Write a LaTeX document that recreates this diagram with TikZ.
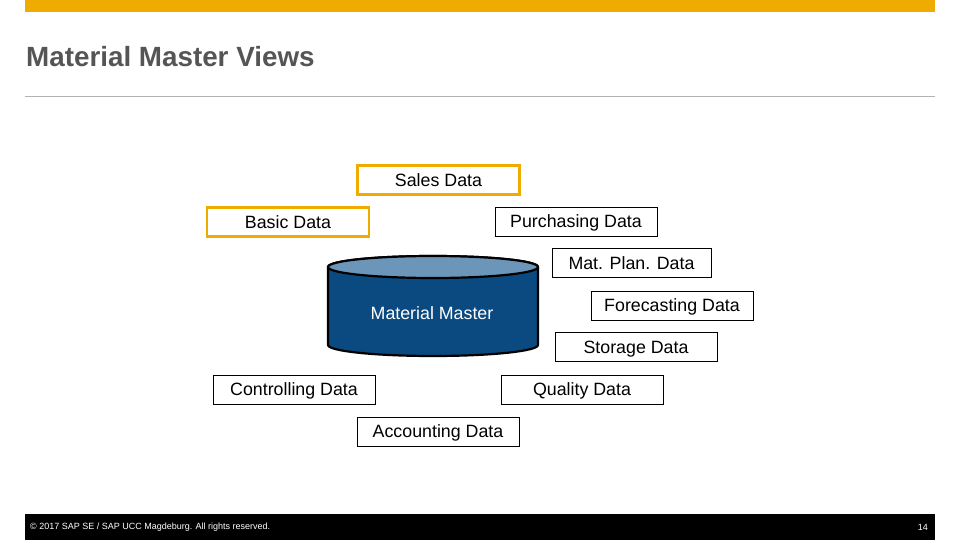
\documentclass[tikz,border=0pt]{standalone}
\usepackage{fontspec}
\setmainfont{Liberation Sans}
\definecolor{sapyel}{HTML}{F0AB00}
\definecolor{cylbody}{HTML}{0B4A80}
\definecolor{cyltop}{HTML}{6B96BA}
\definecolor{titlegray}{HTML}{555555}
\begin{document}
\begin{tikzpicture}[x=1pt,y=-1pt,
  vbox/.style={draw=black,line width=0.8pt,fill=white,minimum width=162pt,minimum height=29pt,font=\fontsize{17.8}{20}\selectfont,inner sep=0pt,text height=12.5pt,text depth=0pt},
  ybox/.style={vbox,draw=sapyel,line width=2.5pt}]
\useasboundingbox (0,0) rectangle (960,540);
\fill[sapyel] (25,0) rectangle (935,12);
\node[anchor=west,font=\fontsize{27.8}{32}\selectfont\bfseries,text=titlegray,inner sep=0pt] (title) at (26,57) {Material Master Views};
\draw[gray!60,line width=0.8pt] (25,96) -- (935,96);
\node[ybox] (sales) at (438.5,180) {Sales Data};
\node[ybox] (basic) at (288,222) {Basic Data};
\node[vbox] (purch) at (576,221.5) {Purchasing Data};
\node[vbox,minimum width=159pt] (matplan) at (631.5,263) {Mat. Plan. Data};
\node[vbox] (fore) at (672,305.5) {Forecasting Data};
\node[vbox] (stor) at (636,347) {Storage Data};
\node[vbox] (ctrl) at (294,389.5) {Controlling Data};
\node[vbox] (qual) at (582,389.5) {Quality Data};
\node[vbox] (acct) at (438,431.5) {Accounting Data};
% cylinder
\draw[line width=2.2pt,fill=cylbody] (328,267) -- (328,345) arc[start angle=180,end angle=0,x radius=105,y radius=11] -- (538,267) arc[start angle=0,end angle=-180,x radius=105,y radius=11] -- cycle;
\draw[line width=2.2pt,fill=cyltop] (433,267) ellipse[x radius=105,y radius=11];
\node[text=white,font=\fontsize{17.8}{20}\selectfont] (mm) at (432,313) {Material Master};
\fill[black] (25,514) rectangle (935,540);
\node[anchor=west,text=white,font=\fontsize{9}{10}\selectfont,inner sep=0pt] (copy) at (30,527) {© 2017 SAP SE / SAP UCC Magdeburg. All rights reserved.};
\node[anchor=east,text=white,font=\fontsize{9}{10}\selectfont,inner sep=0pt] (pg) at (928,527) {14};
\end{tikzpicture}
\end{document}
